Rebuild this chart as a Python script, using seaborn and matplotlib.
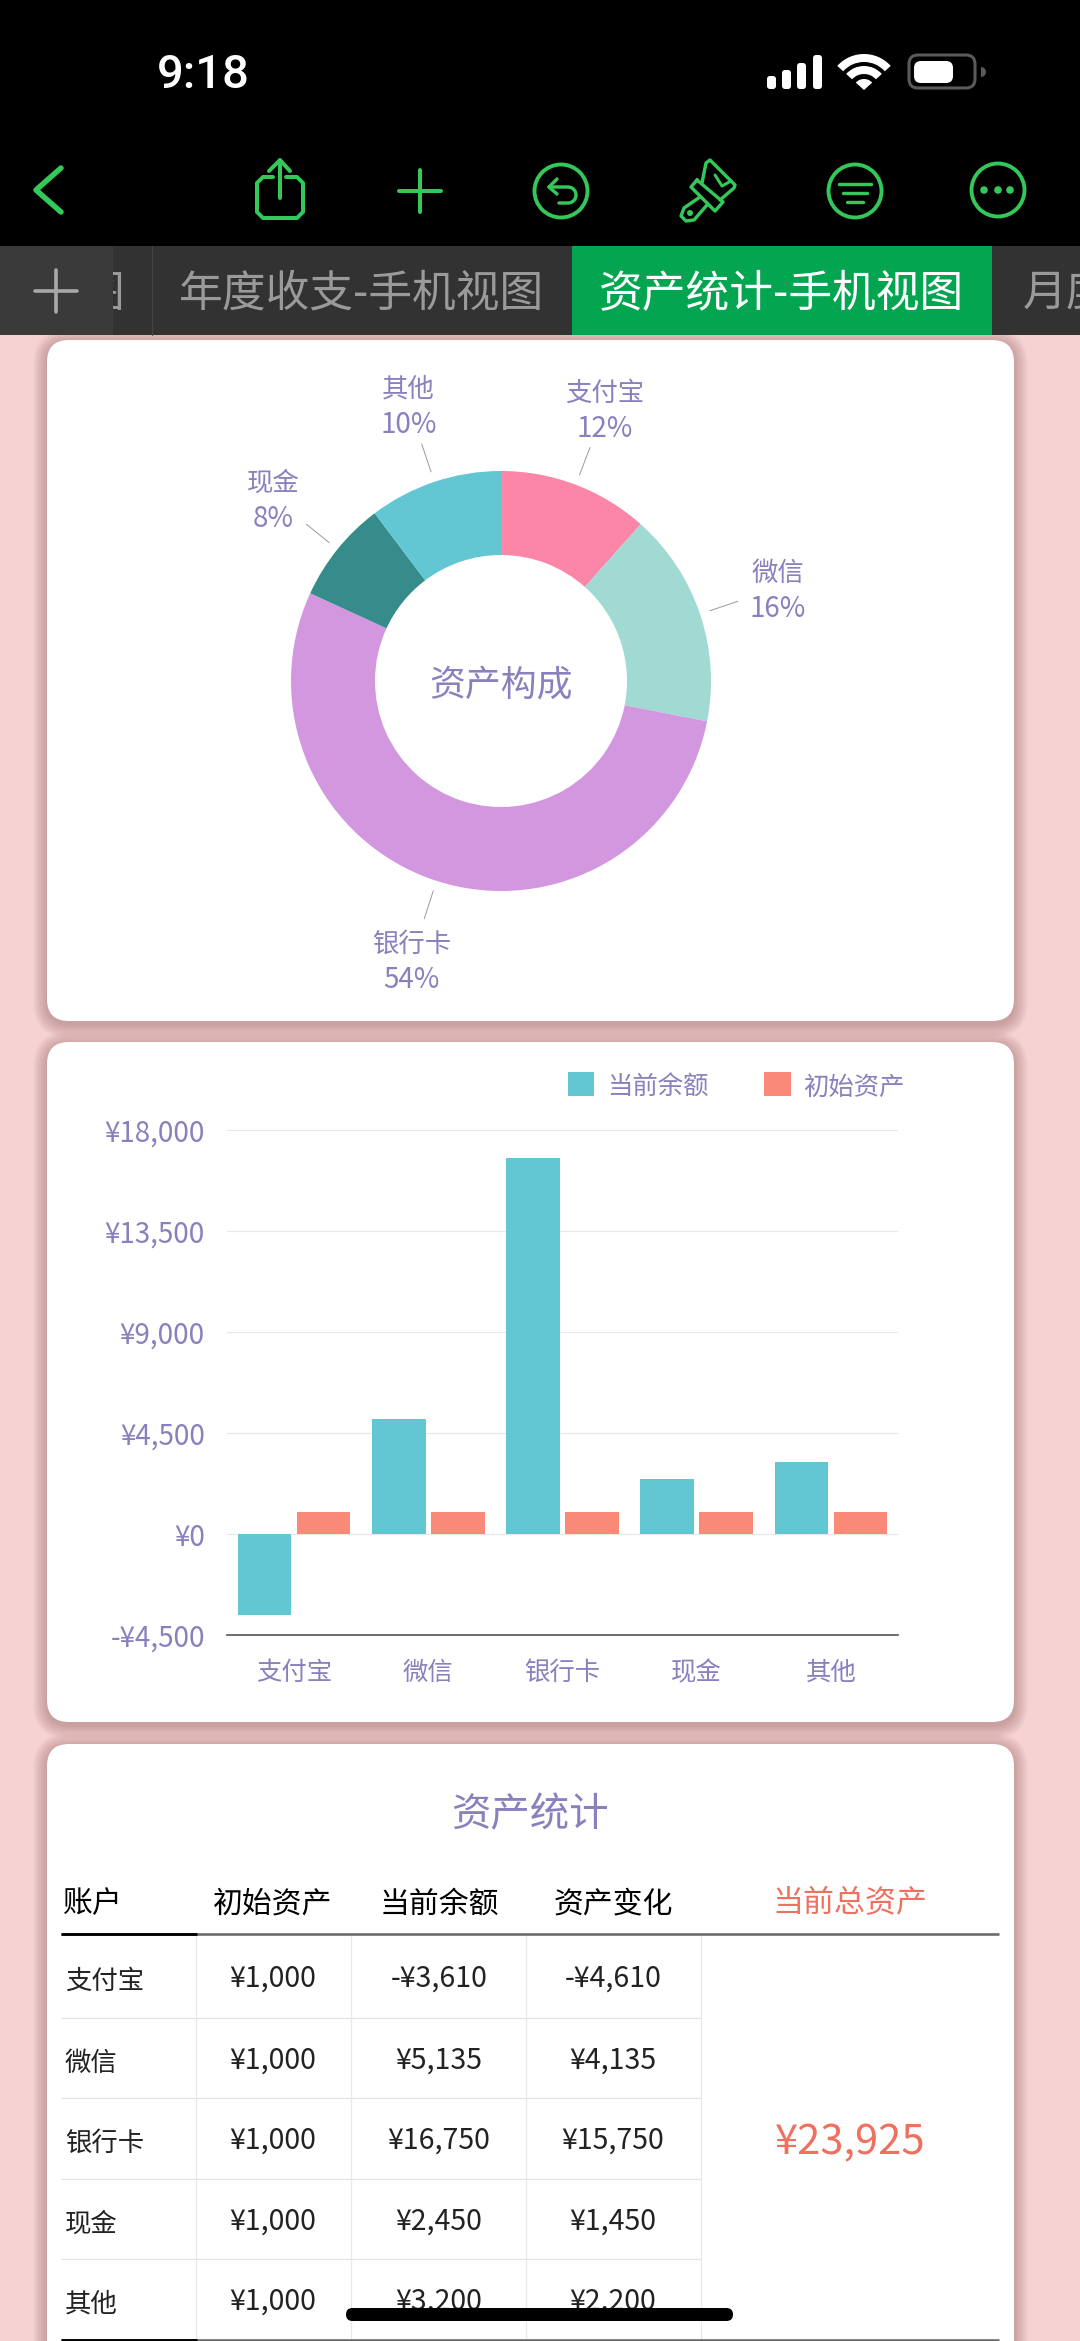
import numpy as np
import pandas as pd
import matplotlib
matplotlib.use("Agg")
import matplotlib.pyplot as plt
import seaborn as sns
from matplotlib.patches import Circle, FancyBboxPatch, Rectangle, Wedge
from matplotlib.transforms import Bbox, TransformedBbox

# data
accounts = ["支付宝", "微信", "银行卡", "现金", "其他"]
initial = [1000, 1000, 1000, 1000, 1000]
current = [-3610, 5135, 16750, 2450, 3200]
change = [-4610, 4135, 15750, 1450, 2200]
total = 23925
y_ticks = [-4500, 0, 4500, 9000, 13500, 18000]
table_head = ["初始资产", "当前余额", "资产变化"]
pie_colors = ["#FC86A8", "#A0DAD2", "#D397E0", "#358C8A", "#62C6D3"]

W, H = 1080, 2341
PINK = "#F7D2D2"
GREEN = "#34C759"
PURPLE = "#8A80BE"
SALMON = "#F98A78"
TEAL = "#62C6D3"

sns.set_theme(style="white")
plt.rcParams["font.family"] = ["Noto Sans CJK SC", "DejaVu Sans"]


def money(v):
    return f"-¥{abs(v):,}" if v < 0 else f"¥{v:,}"


def px_axes(fig, x0, y0, x1, y1, **kw):
    return fig.add_axes([x0 / W, 1 - y1 / H, (x1 - x0) / W, (y1 - y0) / H], **kw)


def line(ax, xs, ys, color=GREEN, width=4, z=5, cap="round"):
    ax.plot(xs, ys, color=color, lw=width * 0.72, solid_capstyle=cap, solid_joinstyle="round", zorder=z)


def rounded(ax, x0, y0, x1, y1, r, **kw):
    box = FancyBboxPatch((x0, y0), x1 - x0, y1 - y0, boxstyle=f"round,pad=0,rounding_size={r}", **kw)
    ax.add_patch(box)
    return box


def draw_card(ax, x0, y0, x1, y1):
    for i in range(14, 0, -1):
        rounded(ax, x0 - i, y0 - i + 3, x1 + i, y1 + i + 3, 22 + i, fc="#6B3A3A", ec="none", alpha=0.022, zorder=1)
    rounded(ax, x0, y0, x1, y1, 22, fc="white", ec="none", zorder=2)


def draw_chrome(ax):
    ax.add_patch(Rectangle((0, 0), W, 246, fc="black", ec="none", zorder=3))
    ax.text(203, 75, "9:18", color="white", fontsize=34, family=["Roboto", "DejaVu Sans"], weight="medium",
            ha="center", va="center", zorder=5)

    # signal, wifi, battery
    for x0, top in zip([767, 782, 797, 813], [76, 70, 63, 55]):
        rounded(ax, x0, top, x0 + 9, 89, 3, fc="white", ec="none", zorder=5)
    for r, w in [(36, 8), (24, 8), (11, 11)]:
        ax.add_patch(Wedge((864, 90), r, 222, 318, width=w, fc="white", ec="none", zorder=5))
    rounded(ax, 909, 55, 975, 88, 9, fc="none", ec="#5A5A5A", lw=2.2, zorder=5)
    rounded(ax, 914, 61, 953, 83, 7, fc="white", ec="none", zorder=5)
    ax.add_patch(Wedge((981, 72), 5, -90, 90, fc="#5A5A5A", ec="none", zorder=5))

    # toolbar icons
    line(ax, [61, 36, 61], [168, 190, 212], width=5.5)
    line(ax, [273, 263, 257, 257, 263, 297, 303, 303, 297, 286],
         [177, 177, 183, 212, 218, 218, 212, 183, 177, 177])
    line(ax, [280, 280], [198, 161])
    line(ax, [269, 280, 290], [171, 160, 171])
    line(ax, [399, 441], [191, 191])
    line(ax, [420, 420], [170, 212])
    for cx, cy in [(561, 191), (855, 191), (998, 190)]:
        ax.add_patch(Circle((cx, cy), 26.5, fc="none", ec=GREEN, lw=2.8, zorder=5))
    line(ax, [557, 549, 557], [179, 187, 194], width=3.4)
    theta = np.radians(np.linspace(-90, 90, 20))
    line(ax, np.r_[549, 568 + 8 * np.cos(theta), 559], np.r_[187, 195 + 8 * np.sin(theta), 203], width=3.4)
    for yy, x0, x1 in [(184, 839, 871), (193, 843, 867), (202, 847, 863)]:
        line(ax, [x0, x1], [yy, yy], width=3.4)
    for cx in [984, 998, 1010]:
        ax.add_patch(Circle((cx, 190), 3.8, fc=GREEN, ec="none", zorder=5))

    # paint brush, points in screenshot pixels
    head = [(702, 183), (706, 163), (710, 160), (735, 185), (734, 188), (720, 200)]
    ferrule = [(697, 180), (691, 187), (715, 211), (723, 202), (697, 180)]
    handle = [(700, 197), (684, 208), (681, 216), (686, 221), (694, 220), (707, 205)]
    for pts in [head, ferrule, handle]:
        line(ax, *zip(*pts), width=3.4)
    line(ax, [715, 722, 731], [175, 186, 181], width=3)
    ax.add_patch(Circle((690, 213), 3, fc=GREEN, ec="none", zorder=5))

    # sheet tabs
    ax.add_patch(Rectangle((0, 246), W, 89, fc="#333232", ec="none", zorder=3))
    ax.add_patch(Rectangle((0, 246), 113, 89, fc="#3B3A3A", ec="none", zorder=3))
    ax.add_patch(Rectangle((572, 246), 420, 89, fc="#03A550", ec="none", zorder=4))
    line(ax, [152, 152], [246, 335], color="#444444", width=1, z=4)
    line(ax, [35, 77], [291, 291], color="#A8A8A8", width=3.6)
    line(ax, [56, 56], [270, 312], color="#A8A8A8", width=3.6)
    frag = ax.text(124, 294, "图", color="#9A9A9A", fontsize=31.5, ha="right", va="center", zorder=5, clip_on=True)
    frag.set_clip_box(TransformedBbox(Bbox([[113, 246], [124, 335]]), ax.transData))
    ax.text(362, 294, "年度收支-手机视图", color="#9A9A9A", fontsize=31.5, ha="center", va="center", zorder=5)
    ax.text(781, 294, "资产统计-手机视图", color="white", fontsize=31.5, ha="center", va="center", zorder=5)
    ax.text(1023, 294, "月度", color="#9A9A9A", fontsize=31.5, ha="left", va="center", zorder=5, clip_on=True)


def draw_pie(fig):
    half = 340
    ax = px_axes(fig, 501 - half, 681 - half, 501 + half, 681 + half)
    ax.patch.set_alpha(0)
    sizes = np.abs(current)
    shares = sizes / sizes.sum()
    wedges, _ = ax.pie(sizes, colors=pie_colors, startangle=90, counterclock=False, radius=1,
                       wedgeprops={"width": 0.4, "linewidth": 0})
    ax.set_xlim(-half / 210, half / 210)
    ax.set_ylim(-half / 210, half / 210)
    ax.axis("off")
    for w, name, share in zip(wedges, accounts, shares):
        a = np.radians((w.theta1 + w.theta2) / 2)
        ax.plot([1.05 * np.cos(a), 1.19 * np.cos(a)], [1.05 * np.sin(a), 1.19 * np.sin(a)], color="#9A9A9A", lw=0.7)
        lx, ly = 1.39 * np.cos(a), 1.39 * np.sin(a)
        ax.text(lx, ly + 0.071, name, color=PURPLE, fontsize=19, ha="center", va="center")
        ax.text(lx, ly - 0.099, f"{share * 100:.0f}%", color=PURPLE, fontsize=20, ha="center", va="center")
    ax.text(0, -0.022, "资产构成", color=PURPLE, fontsize=25.8, ha="center", va="center")


def draw_bars(fig):
    ax = px_axes(fig, 227, 1130, 898, 1635)
    ax.patch.set_alpha(0)
    df = pd.DataFrame({
        "账户": accounts * 2,
        "金额": current + initial,
        "系列": ["当前余额"] * 5 + ["初始资产"] * 5,
    })
    sns.barplot(data=df, x="账户", y="金额", hue="系列", palette=[TEAL, SALMON], saturation=1,
                width=0.88, gap=0.09, linewidth=0, ax=ax, zorder=3)
    ax.set_xlim(-0.5, 4.5)
    ax.set_ylim(y_ticks[0], y_ticks[-1])
    ax.set_yticks(y_ticks)
    ax.set_yticklabels([money(v) for v in y_ticks], color=PURPLE, fontsize=20)
    ax.tick_params(axis="y", length=0, pad=16)
    ax.tick_params(axis="x", length=0, pad=18, labelsize=18.3, labelcolor=PURPLE)
    ax.set_xlabel("")
    ax.set_ylabel("")
    ax.grid(axis="y", color="#E8E8E8", lw=0.9, zorder=0)
    ax.set_axisbelow(True)
    sns.despine(ax=ax, left=True)
    ax.spines["bottom"].set_color("#555555")
    ax.spines["bottom"].set_linewidth(1.2)
    leg = ax.legend(loc="lower right", bbox_to_anchor=(905 / W, 1 - 1099 / H), bbox_transform=fig.transFigure,
                    ncol=2, frameon=False, fontsize=18.3, labelcolor=PURPLE, handlelength=1.06, handleheight=1.06,
                    handletextpad=0.5, columnspacing=2.17, borderpad=0, borderaxespad=0)
    for t in leg.get_texts():
        t.set_y(-2)


def draw_table(ax):
    ax.text(530, 1815, "资产统计", color=PURPLE, fontsize=28.4, ha="center", va="center", zorder=5)
    head_y = 1904
    cols = [273, 439, 613]
    ax.text(63, head_y, "账户", color="black", fontsize=21.5, ha="left", va="center", zorder=5)
    for cx, name in zip(cols, table_head):
        ax.text(cx, head_y, name, color="black", fontsize=21.5, ha="center", va="center", zorder=5)
    ax.text(850, head_y, "当前总资产", color="#F0705F", fontsize=22.3, ha="center", va="center", zorder=5)

    rows = [1934, 2017.5, 2097.5, 2179, 2259, 2339.5]
    for yy in rows[1:-1]:
        line(ax, [61, 701], [yy, yy], color="#E2E2E2", width=1.2, z=3, cap="butt")
    for xx in [196, 351, 526, 701]:
        line(ax, [xx, xx], [1934, 2341], color="#E8E8E8", width=1.2, z=3, cap="butt")
    for yy in [rows[0], rows[-1]]:
        line(ax, [61, 999], [yy, yy], color="#6A6A6A", width=2.6, z=4, cap="butt")
        line(ax, [61, 197], [yy, yy], color="black", width=2.8, z=4, cap="butt")

    for i, name in enumerate(accounts):
        cy = [1977, 2059, 2139, 2220, 2300][i]
        ax.text(65, cy + 4, name, color="#222222", fontsize=19, ha="left", va="center", zorder=5)
        for cx, v in zip(cols, [initial[i], current[i], change[i]]):
            ax.text(cx, cy + 2, money(v), color="#222222", fontsize=20.5, ha="center", va="center", zorder=5)
    ax.text(850, 2143, money(total), color="#F0705F", fontsize=30, weight="medium", ha="center", va="center", zorder=5)


fig = plt.figure(figsize=(W / 100, H / 100), dpi=100, facecolor=PINK)
bg = fig.add_axes([0, 0, 1, 1], zorder=0)
bg.set_xlim(0, W)
bg.set_ylim(H, 0)
bg.axis("off")

draw_card(bg, 47, 340, 1014, 1021)
draw_card(bg, 47, 1042, 1014, 1722)
draw_card(bg, 47, 1744, 1014, 2400)
draw_chrome(bg)
draw_table(bg)
rounded(bg, 346, 2308, 733, 2321, 6.5, fc="black", ec="none", zorder=8)

draw_pie(fig)
draw_bars(fig)

fig.savefig("out.png", dpi=100, facecolor=PINK)
